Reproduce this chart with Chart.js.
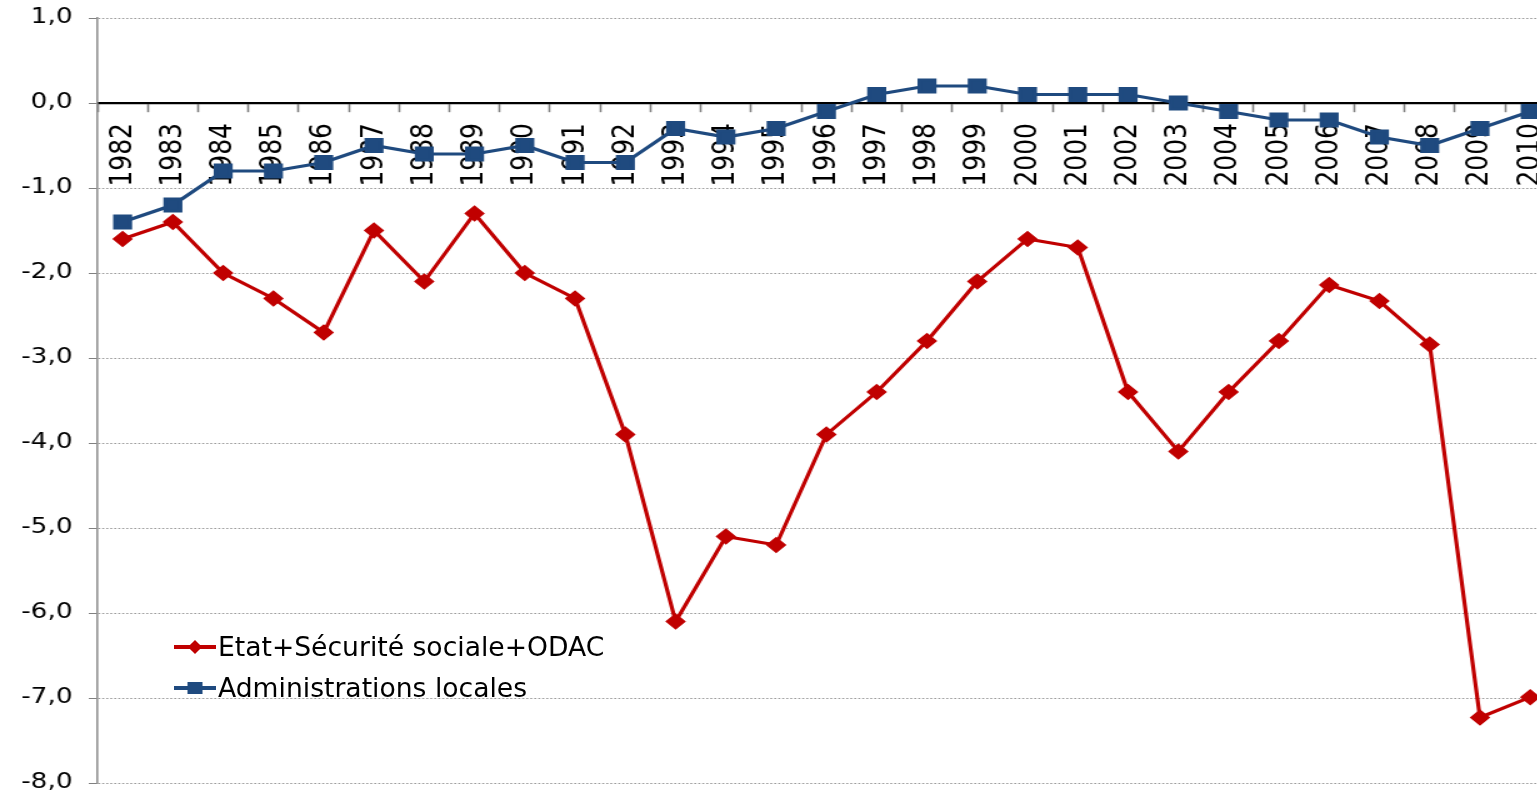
<!DOCTYPE html>
<html lang="fr">
<head>
  <meta charset="UTF-8" />
  <title>Soldes publics</title>
  <script src="https://cdn.jsdelivr.net/npm/chart.js"></script>
  <style>
    * { margin: 0; padding: 0; box-sizing: border-box; }
    html, body { width: 1537px; height: 798px; overflow: hidden; background: #fff; font-family: "DejaVu Sans", Verdana, sans-serif; }
    /* the original picture is stretched sideways, so the chart is drawn narrow and scaled */
    #chart { position: absolute; left: 0; top: 0; transform: scaleX(1.25); transform-origin: 0 0; }
    .legend { position: absolute; left: 174px; top: 626px; font-size: 26.6px; color: #000; }
    .legend div { display: flex; align-items: center; height: 41px; }
    .sample { position: relative; width: 42px; height: 4px; margin-right: 2px; }
    .sample i { position: absolute; left: 50%; top: 50%; }
    .red { background: #C00000; }
    .red i { width: 10px; height: 10px; background: #C00000; transform: translate(-50%, -50%) rotate(45deg); }
    .blue { background: #1F4A7F; }
    .blue i { width: 15px; height: 12px; background: #1F4A7F; transform: translate(-50%, -50%); }
  </style>
</head>
<body>
  <canvas id="chart" width="1256" height="798"></canvas>
  <div class="legend">
    <div><span class="sample red"><i></i></span>Etat+Sécurité sociale+ODAC</div>
    <div><span class="sample blue"><i></i></span>Administrations locales</div>
  </div>
  <script>
    const years = ['1982','1983','1984','1985','1986','1987','1988','1989','1990','1991','1992','1993','1994','1995',
      '1996','1997','1998','1999','2000','2001','2002','2003','2004','2005','2006','2007','2008','2009','2010'];
    const etatSecuOdac = [-1.6, -1.4, -2.0, -2.3, -2.7, -1.5, -2.1, -1.3, -2.0, -2.3, -3.9, -6.1, -5.1, -5.2,
      -3.9, -3.4, -2.8, -2.1, -1.6, -1.7, -3.4, -4.1, -3.4, -2.8, -2.14, -2.33, -2.84, -7.23, -6.99];
    const adminLocales = [-1.4, -1.2, -0.8, -0.8, -0.7, -0.5, -0.6, -0.6, -0.5, -0.7, -0.7, -0.3, -0.4, -0.3,
      -0.1, 0.1, 0.2, 0.2, 0.1, 0.1, 0.1, 0.0, -0.1, -0.2, -0.2, -0.4, -0.5, -0.3, -0.1];

    const family = '"DejaVu Sans", Verdana, sans-serif';

    new Chart(document.getElementById('chart'), {
      type: 'line',
      data: {
        labels: years,
        datasets: [
          { label: 'Etat+Sécurité sociale+ODAC', data: etatSecuOdac, borderColor: '#C00000', backgroundColor: '#C00000',
            borderWidth: 3.2, pointStyle: 'rectRot', pointRadius: 6, pointHoverRadius: 6, tension: 0 },
          { label: 'Administrations locales', data: adminLocales, borderColor: '#1F4A7F', backgroundColor: '#1F4A7F',
            borderWidth: 3.2, pointStyle: 'rect', pointRadius: 8.5, pointHoverRadius: 8.5, tension: 0 }
        ]
      },
      options: {
        responsive: false,
        animation: false,
        layout: { padding: { top: 18, bottom: 15, left: 0, right: 0 } },
        plugins: { legend: { display: false }, tooltip: { enabled: false } },
        scales: {
          x: {
            position: { y: 0 },
            offset: true,
            afterFit: s => { s.paddingLeft = 0; s.paddingRight = 0; },
            grid: { drawOnChartArea: false, offset: true, tickLength: 8, tickColor: '#808080', tickWidth: 1.6 },
            border: { color: '#000', width: 2.2 },
            ticks: { color: '#000', font: { family, size: 25 }, minRotation: 90, maxRotation: 90, autoSkip: false, padding: 12 }
          },
          y: {
            min: -8, max: 1,
            afterFit: s => { s.width = 78; s.paddingTop = 0; s.paddingBottom = 0; },
            grid: { color: '#9A9A9A', lineWidth: 1, tickLength: 7, tickColor: '#808080', tickWidth: 1 },
            border: { color: '#909090', width: 1.6, dash: [1.6, 1.6] },
            ticks: { stepSize: 1, color: '#000', font: { family, size: 21 }, padding: 13,
              callback: v => v.toFixed(1).replace('.', ',') }
          }
        }
      }
    });
  </script>
</body>
</html>
